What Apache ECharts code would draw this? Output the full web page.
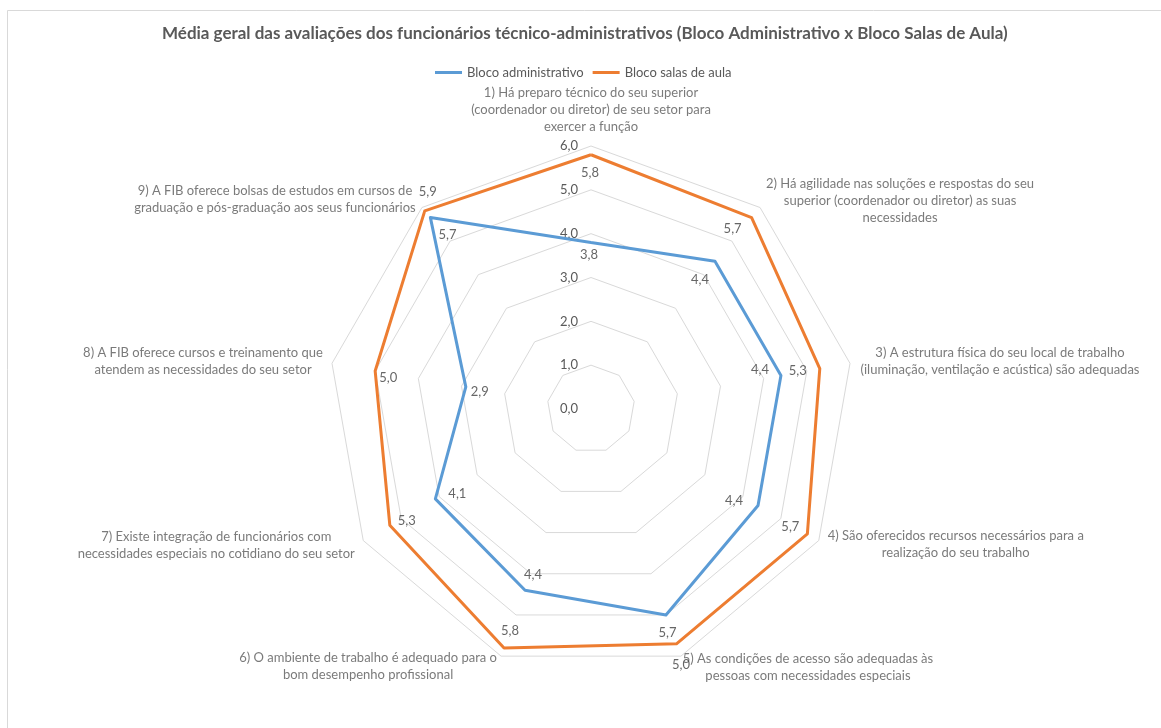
<!DOCTYPE html>
<html>
<head>
<meta charset="utf-8">
<script src="https://cdn.jsdelivr.net/npm/echarts@6/dist/echarts.min.js"></script>
<style>
html,body{margin:0;padding:0;background:#fff;}
#chart{width:1161px;height:728px;}
</style>
</head>
<body>
<div id="chart"></div>
<script>
// ---- data ----
const categories = [
  "1) Há preparo técnico do seu superior\n(coordenador ou diretor) de seu setor para\nexercer a função",
  "2) Há agilidade nas soluções e respostas do seu\nsuperior (coordenador ou diretor) as suas\nnecessidades",
  "3) A estrutura física do seu local de trabalho\n(iluminação, ventilação e acústica) são adequadas",
  "4) São oferecidos recursos necessários para a\nrealização do seu trabalho",
  "5) As condições de acesso são adequadas às\npessoas com necessidades especiais",
  "6) O ambiente de trabalho é adequado para o\nbom desempenho profissional",
  "7) Existe integração de funcionários com\nnecessidades especiais no cotidiano do seu setor",
  "8) A FIB oferece cursos e treinamento que\natendem as necessidades do seu setor",
  "9) A FIB oferece bolsas de estudos em cursos de\ngraduação e pós-graduação aos seus funcionários"
];
const seriesNames = ["Bloco administrativo", "Bloco salas de aula"];
const adminValues = [3.8, 4.4, 4.4, 4.4, 5.0, 4.4, 4.1, 2.9, 5.7];
const salasValues = [5.8, 5.7, 5.3, 5.7, 5.7, 5.8, 5.3, 5.0, 5.9];
const axisMin = 0, axisMax = 6, axisStep = 1;
const chartTitle = "Média geral das avaliações dos funcionários técnico-administrativos (Bloco Administrativo x Bloco Salas de Aula)";

// ---- layout (label offsets in px, not data) ----
const adminLabelOffsets = [[-2,12],[-15,19],[-21,-6],[-24,-5],[15,50],[8,-15],[22,-5],[14,5],[17,17]];
const salasLabelOffsets = [[-1,18],[-19,11],[-22,2],[-17,-7],[-9,-11],[6,-17],[17,-4],[13,7],[3,-19]];
const catLabelOffsets = [[0,-36],[140,-7],[150,-2],[137,4],[127,11],[-133,10],[-147,5],[-129,-2],[-147,-8]];

const FONT = 'Lato';
const CX = 591, CY = 409, R = 263;
const fmt = v => v.toFixed(1).replace('.', ',');

// ECharts radar goes counter-clockwise: reorder so the visual order is clockwise
const order = [0, 8, 7, 6, 5, 4, 3, 2, 1];

const chart = echarts.init(document.getElementById('chart'), null, {renderer: 'canvas'});

function valueLabelSeries(vals, offsets) {
  return {
    type: 'scatter',
    coordinateSystem: 'polar',
    silent: true,
    symbolSize: 1,
    itemStyle: {color: 'rgba(0,0,0,0)'},
    z: 5,
    data: vals.map((v, i) => ({
      value: [v, i],
      label: {offset: offsets[i]}
    })),
    label: {
      show: true,
      position: 'inside',
      formatter: p => fmt(p.value[0]),
      color: '#404040',
      fontFamily: FONT,
      fontSize: 13,
      align: 'center',
      verticalAlign: 'middle'
    }
  };
}

const option = {
  backgroundColor: '#ffffff',
  animation: false,
  graphic: [{
    type: 'rect',
    shape: {x: 7.5, y: 10.5, width: 1200, height: 800},
    style: {fill: 'none', stroke: '#d9d9d9', lineWidth: 1},
    silent: true
  }],
  title: {
    text: chartTitle,
    left: 157,
    top: 20,
    textStyle: {fontFamily: FONT, fontSize: 17, fontWeight: 'bold', color: '#595959'}
  },
  legend: {
    data: seriesNames,
    left: 430,
    top: 61,
    icon: 'rect',
    itemWidth: 27,
    itemHeight: 3,
    itemGap: 9,
    textStyle: {fontFamily: FONT, fontSize: 13, color: '#595959'}
  },
  radar: {
    center: [CX, CY],
    radius: R,
    shape: 'polygon',
    splitNumber: (axisMax - axisMin) / axisStep,
    startAngle: 90,
    axisName: {show: false},
    axisLine: {show: false},
    axisTick: {show: false},
    axisLabel: {show: false},
    splitArea: {show: false},
    splitLine: {lineStyle: {color: '#d9d9d9', width: 1}},
    indicator: order.map(i => ({name: categories[i], min: axisMin, max: axisMax}))
  },
  polar: {center: [CX, CY], radius: R},
  angleAxis: {
    type: 'value', min: 0, max: categories.length, startAngle: 90, clockwise: true,
    axisLine: {show: false}, axisTick: {show: false}, axisLabel: {show: false}, splitLine: {show: false}
  },
  radiusAxis: {
    type: 'value', min: axisMin, max: axisMax, interval: axisStep,
    axisLine: {show: false}, axisTick: {show: false}, splitLine: {show: false},
    axisLabel: {
      show: true, formatter: v => fmt(v), color: '#595959', fontFamily: FONT, fontSize: 13,
      margin: 13, padding: [6, 0, 0, 0]
    }
  },
  series: [
    {
      type: 'radar',
      symbol: 'none',
      z: 3,
      data: [
        {name: seriesNames[0], value: order.map(i => adminValues[i]),
         lineStyle: {color: '#5B9BD5', width: 3}, itemStyle: {color: '#5B9BD5'}},
        {name: seriesNames[1], value: order.map(i => salasValues[i]),
         lineStyle: {color: '#ED7D31', width: 3}, itemStyle: {color: '#ED7D31'}}
      ]
    },
    valueLabelSeries(adminValues, adminLabelOffsets),
    valueLabelSeries(salasValues, salasLabelOffsets),
    {
      type: 'scatter',
      coordinateSystem: 'polar',
      silent: true,
      symbolSize: 1,
      itemStyle: {color: 'rgba(0,0,0,0)'},
      data: categories.map((c, i) => ({value: [axisMax, i], label: {offset: catLabelOffsets[i]}})),
      label: {
        show: true,
        position: 'inside',
        formatter: p => categories[p.value[1]],
        color: '#595959',
        fontFamily: FONT,
        fontSize: 13,
        lineHeight: 17,
        align: 'center',
        verticalAlign: 'middle'
      }
    }
  ]
};
chart.setOption(option);
</script>
</body>
</html>
